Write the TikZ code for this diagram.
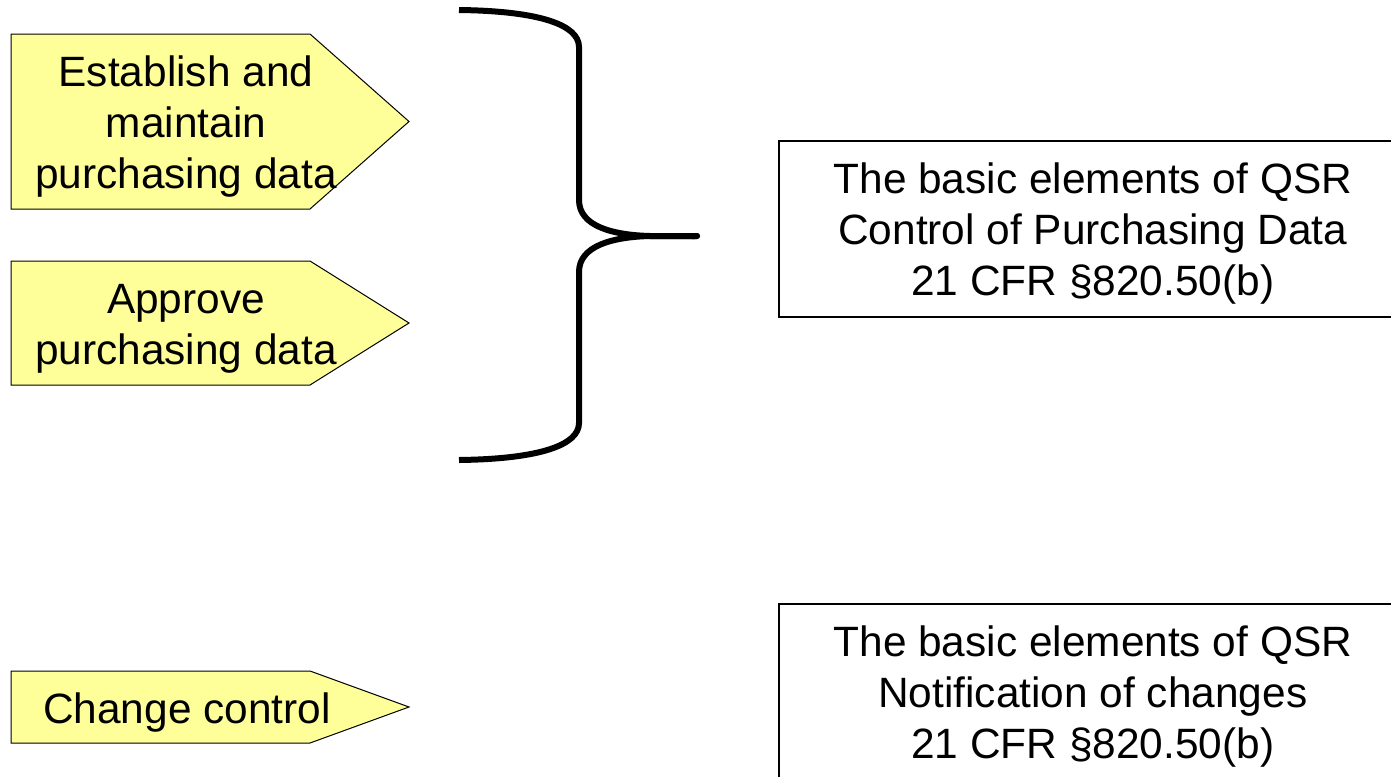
\documentclass[tikz,border=0pt]{standalone}
\usepackage{fontspec}
\setmainfont{Liberation Sans}
\usetikzlibrary{positioning,arrows.meta}
\definecolor{cPale}{HTML}{FFFF99}

\begin{document}
\begin{tikzpicture}[x=0.5pt,y=-0.5pt,font=\fontsize{21.2}{25.5}\selectfont,
      tag/.style={draw=black,fill=cPale,line width=0.5pt},
      txt/.style={align=center,inner sep=0pt},
      spec/.style={draw=black,line width=0.8pt,anchor=north west,align=center,
                   minimum width=314pt,minimum height=88pt,inner sep=0pt}]
    \useasboundingbox (0,0) rectangle (1391,776);
    \clip (0,0) rectangle (1391,776);
    % yellow tags
    \filldraw[tag] (11,34) -- (310,34) -- (409,121.5) -- (310,209) -- (11,209) -- cycle;
    \filldraw[tag] (11,261) -- (310,261) -- (409,323) -- (310,385) -- (11,385) -- cycle;
    \filldraw[tag] (11,671) -- (310,671) -- (409,707) -- (310,743) -- (11,743) -- cycle;
    \node[txt] (est) at (186,127) {Establish and\\maintain\\purchasing data};
    \node[txt] (appr) at (186,329) {Approve\\purchasing data};
    \node[txt] (chg) at (187,713) {Change control};
    % QSR boxes (the strut pushes the lines down a little)
    \node[spec] (purch) at (778,140)
      {\rule{0pt}{20.5pt}The basic elements of QSR\\Control of Purchasing Data\\21 CFR §820.50(b)};
    \node[spec] (notif) at (778,603)
      {\rule{0pt}{20.5pt}The basic elements of QSR\\Notification of changes\\21 CFR §820.50(b)};
    % curly brace
    \coordinate (btop) at (459,10);
    \coordinate (bbot) at (459,460);
    \coordinate (btip) at (700,236);
    \draw[line width=3pt,-{Round Cap[]}] (btop) .. controls (540,11) and (579,25) .. (579,47)
      -- (579,200) .. controls (579,226) and (612,235) .. (650,236) -- (btip);
    \draw[line width=3pt,-{Round Cap[]}] (bbot) .. controls (540,459) and (579,445) .. (579,423)
      -- (579,272) .. controls (579,246) and (612,237) .. (650,236) -- (btip);
  \end{tikzpicture}
\end{document}
